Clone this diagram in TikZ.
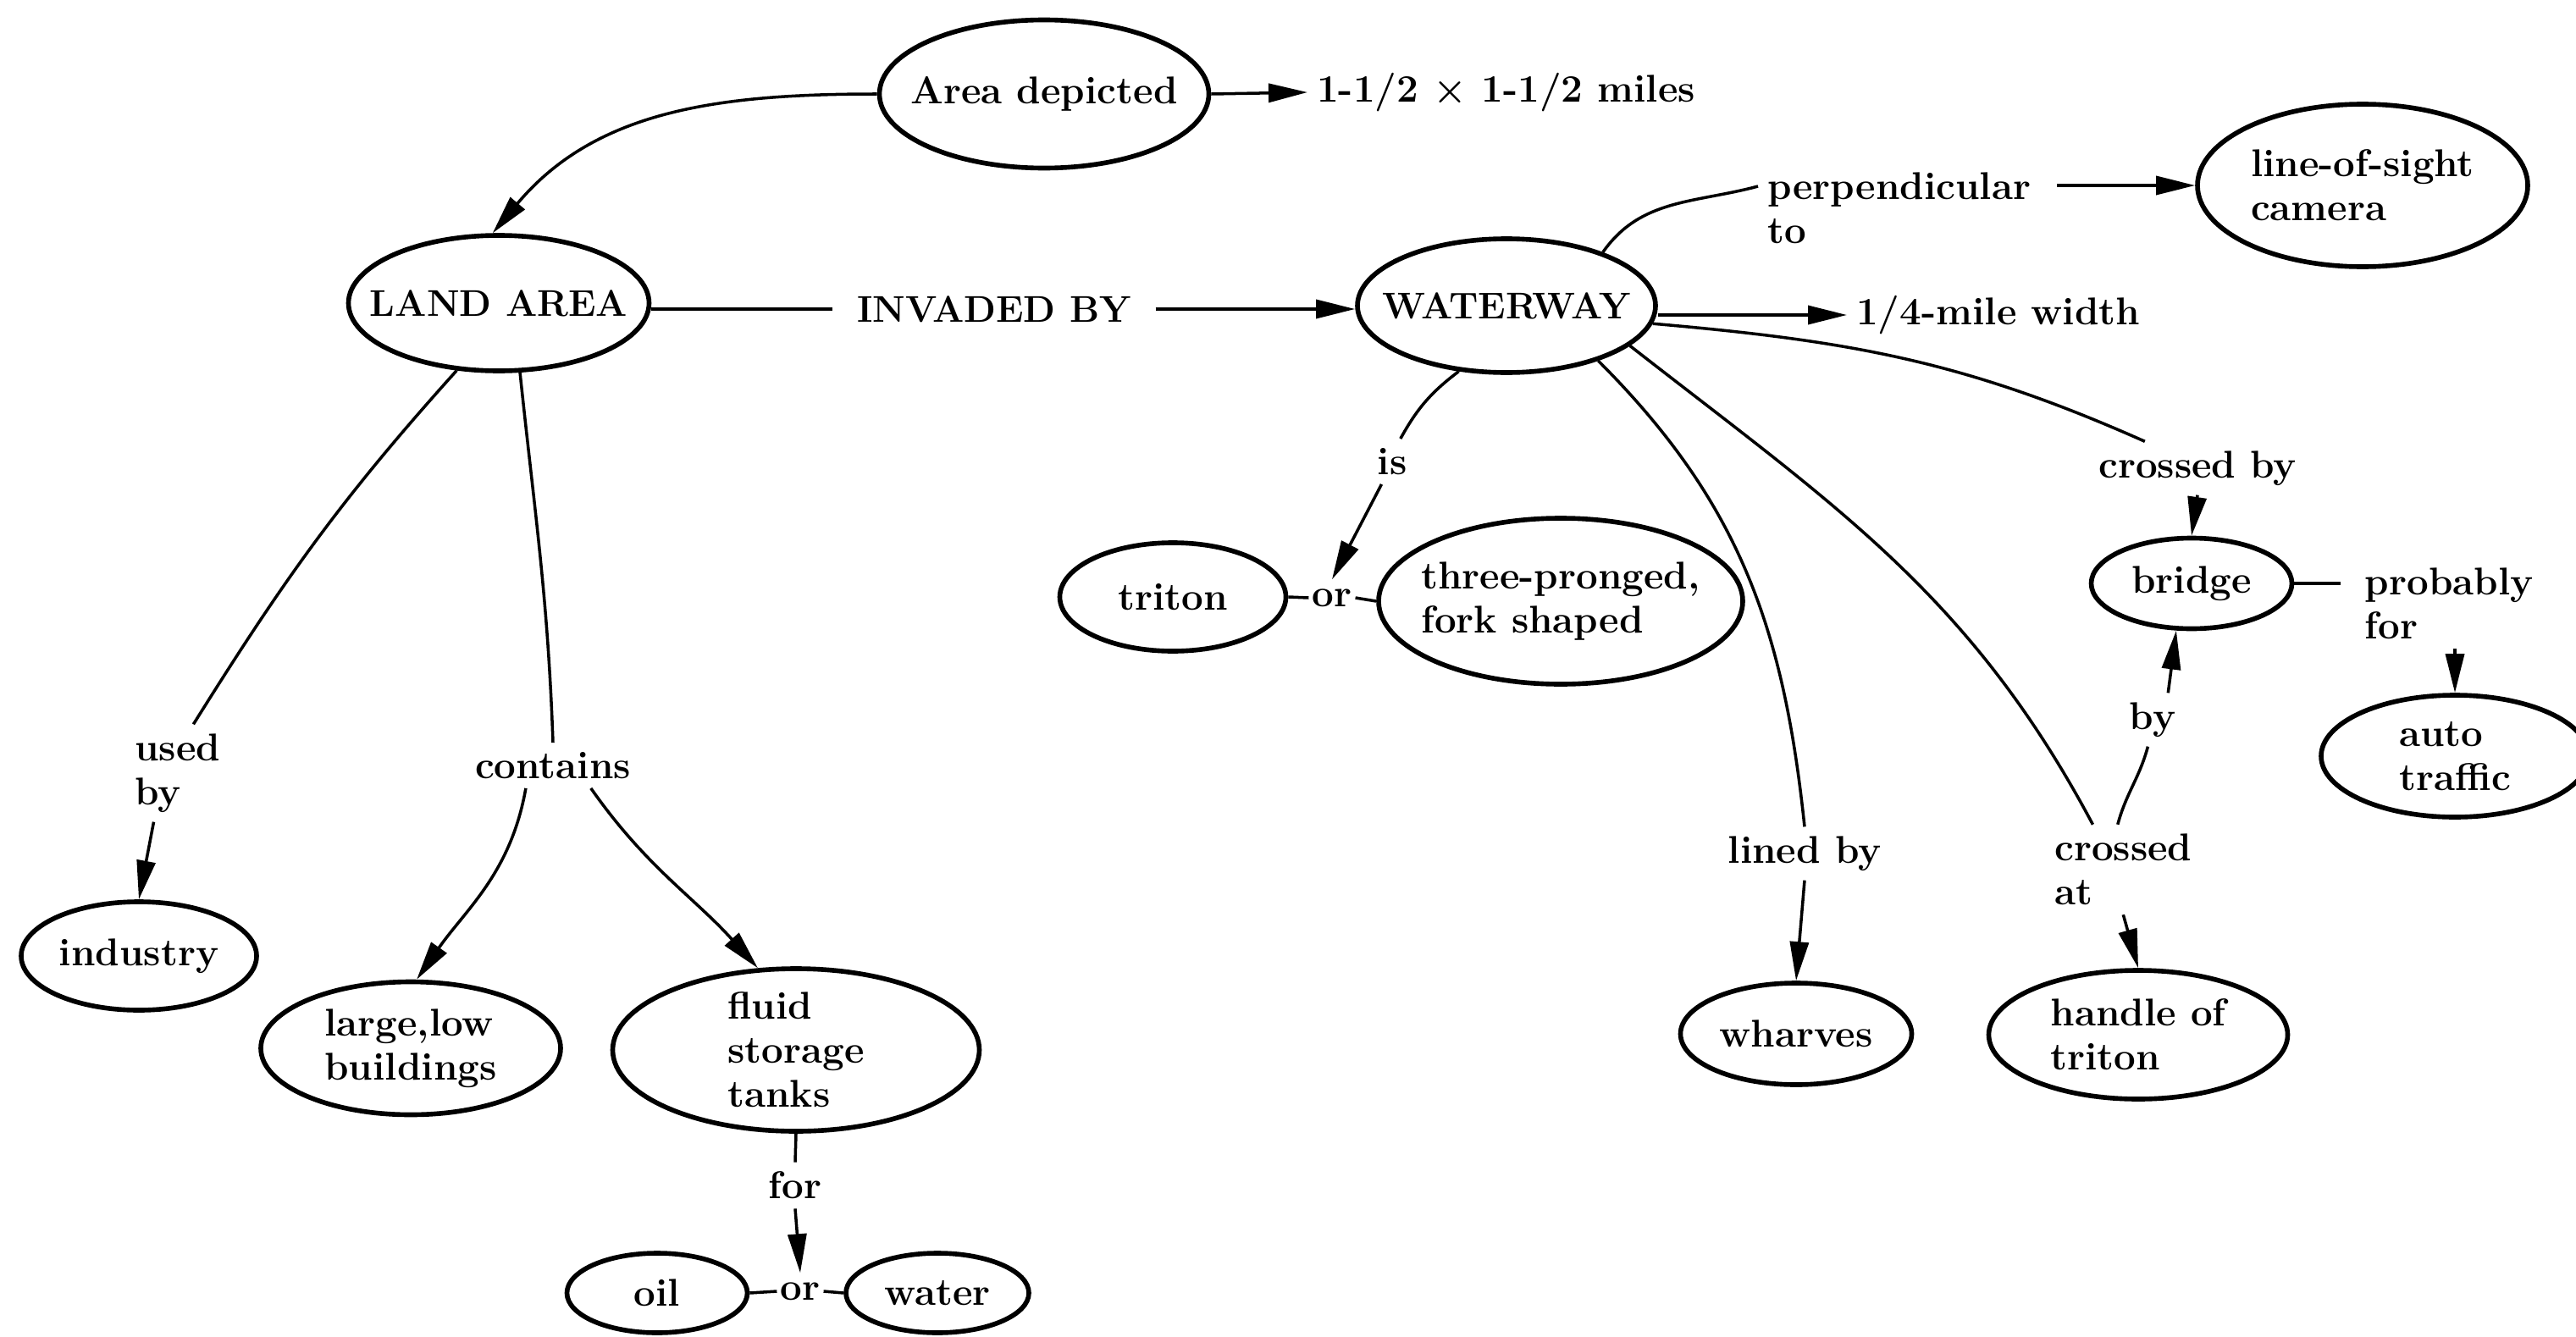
\documentclass[tikz,border=0pt]{standalone}
\usetikzlibrary{shapes.geometric,arrows.meta}
\begin{document}
\begin{tikzpicture}[font=\fontsize{13}{14.8}\selectfont\bfseries]

  \tikzstyle{concept}=[ellipse,draw,line width=1.6pt,inner sep=-0.5cm,align=left]
  \tikzstyle{caps}=[font=\fontsize{12.5}{14}\selectfont\bfseries]
  \tikzstyle{link}=[inner sep=3pt,align=left]
  \tikzstyle{conn}=[line width=1pt]
  \tikzstyle{arr}=[line width=1pt,-{Triangle[length=4.6mm,width=2.2mm]}]

  \useasboundingbox (0,0) rectangle (30.42,-15.79);

  \node[concept,minimum width=3.89cm,minimum height=1.75cm] (area) at (12.33,-1.11) {Area depicted};
  \node[link,anchor=west] (miles) at (15.44,-1.09) {1-1/2 × 1-1/2 miles};
  \node[concept,caps,minimum width=3.55cm,minimum height=1.6cm] (land) at (5.89,-3.58) {LAND AREA};
  \node[link,caps,inner xsep=8pt] (invaded) at (11.74,-3.65) {INVADED BY};
  \node[concept,caps,minimum width=3.52cm,minimum height=1.58cm] (waterway) at (17.79,-3.61) {WATERWAY};
  \node[link,anchor=west] (perp) at (20.76,-2.46) {perpendicular\\to};
  \node[concept,minimum width=3.9cm,minimum height=1.92cm] (camera) at (27.90,-2.19) {line-of-sight\\camera};
  \node[link,anchor=west] (width) at (21.81,-3.72) {1/4-mile width};
  \node[link] (crossedby) at (25.95,-5.53) {crossed by};
  \node[concept,minimum width=2.37cm,minimum height=1.07cm] (bridge) at (25.88,-6.89) {bridge};
  \node[link,anchor=west,inner xsep=8pt] (probably) at (27.64,-7.13) {probably\\for};
  \node[concept,minimum width=3.16cm,minimum height=1.44cm] (auto) at (28.99,-8.93) {auto\\traffic};

  \node[link] (is) at (16.44,-5.45) {is};
  \node[concept,minimum width=2.67cm,minimum height=1.28cm] (triton) at (13.85,-7.05) {triton};
  \node[link,inner xsep=1pt] (or1) at (15.73,-7.06) {or};
  \node[concept,minimum width=4.3cm,minimum height=1.96cm] (three) at (18.43,-7.10) {three-pronged,\\fork shaped};
  \node[link] (lined) at (21.31,-10.08) {lined by};
  \node[concept,minimum width=2.73cm,minimum height=1.2cm] (wharves) at (21.21,-12.21) {wharves};
  \node[link,anchor=west] (crossedat) at (24.15,-10.27) {crossed\\at};
  \node[concept,minimum width=3.53cm,minimum height=1.52cm] (handle) at (25.25,-12.22) {handle of\\triton};
  \node[link] (by) at (25.42,-8.50) {by};

  \node[link,anchor=west] (usedby) at (1.48,-9.13) {used\\by};
  \node[concept,minimum width=2.78cm,minimum height=1.28cm] (industry) at (1.64,-11.29) {industry};
  \node[link] (contains) at (6.53,-9.04) {contains};
  \node[concept,minimum width=3.54cm,minimum height=1.57cm] (large) at (4.85,-12.38) {large,low\\buildings};
  \node[concept,minimum width=4.33cm,minimum height=1.92cm] (fluid) at (9.40,-12.40) {fluid\\storage\\tanks};
  \node[link] (for) at (9.39,-14.00) {for};
  \node[concept,minimum width=2.13cm,minimum height=0.94cm] (oil) at (7.76,-15.27) {oil};
  \node[link,inner xsep=1pt] (or2) at (9.45,-15.25) {or};
  \node[concept,minimum width=2.16cm,minimum height=0.94cm] (water) at (11.07,-15.27) {water};

  \draw[arr] (area.west) to[out=180,in=50] (land.95);
  \draw[arr] (area.east) -- (miles.west);
  \draw[conn] (land.east |- invaded.west) -- (invaded.west);
  \draw[arr] (invaded.east) -- (invaded.east -| waterway.west);
  \draw[conn] (waterway.29) to[out=55,in=195] ([yshift=0.26cm]perp.west);
  \draw[arr,shorten <=0.2cm] (perp.east |- camera.west) -- (camera.west);
  \draw[arr] (waterway.east |- width.west) -- (width.west);
  \draw[conn] (waterway.-7) to[out=-5,in=156] (crossedby.153);
  \draw[arr] (crossedby.south) -- (bridge.north);
  \draw[conn] (bridge.east) -- (bridge.east -| probably.west);
  \draw[arr] (probably.south -| auto.north) -- (auto.north);

  \draw[conn] (waterway.-126) to[bend right=12] (is.70);
  \draw[arr] (is.-115) -- (or1.north);
  \draw[conn] (triton.east) -- (or1.west);
  \draw[conn] (or1.east) -- (three.west);
  \draw[conn] (waterway.-31) to[out=-45,in=96] (lined.north);
  \draw[arr] (lined.south) -- (wharves.north);
  \draw[conn] (waterway.-18) to[out=-38,in=118] (crossedat.124);
  \draw[arr] (crossedat.south) -- (handle.north);
  \draw[conn] (crossedat.97) to[out=75,in=-105] (by.-100);
  \draw[arr] (by.60) -- (bridge.-108);

  \draw[conn] (land.-122) to[out=-132,in=58] (usedby.72);
  \draw[arr] (usedby.-116) -- (industry.north);
  \draw[conn] (land.-73) to[out=-84,in=92] (contains.north);
  \draw[arr] (contains.-140) to[out=-100,in=55] (large.85);
  \draw[arr] (contains.-31) to[out=-55,in=132] (fluid.115);
  \draw[conn] (fluid.south) -- (for.north);
  \draw[arr] (for.south) -- (or2.north);
  \draw[conn] (oil.east) -- (or2.west);
  \draw[conn] (or2.east) -- (water.west);

  %\draw[step=1cm,gray,very thin] (0,-16) grid (31,0);

\end{tikzpicture}
\end{document}
